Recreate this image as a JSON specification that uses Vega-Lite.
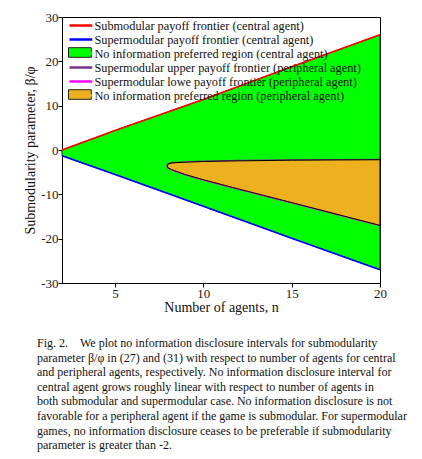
{
  "$schema": "https://vega.github.io/schema/vega-lite/v6.json",
  "autosize": "none",
  "padding": {"left": 62, "top": 17, "right": 42, "bottom": 176},
  "width": 318,
  "height": 266,
  "background": "white",
  "config": {
    "view": {"stroke": "#000000", "strokeWidth": 1},
    "font": "Liberation Serif",
    "axis": {
      "grid": false,
      "zindex": 1,
      "labelFont": "Liberation Serif",
      "labelFontSize": 13,
      "labelColor": "#1a1a1a",
      "labelFlush": false,
      "labelExpr": "replace(datum.label, '\u2212', '-')",
      "titleFont": "Liberation Serif",
      "titleFontSize": 14,
      "titleFontWeight": "normal",
      "titleColor": "#111111",
      "domainColor": "#000000",
      "tickColor": "#000000",
      "tickSize": 4,
      "domainWidth": 1
    }
  },
  "title": {
    "text": [
      "Fig. 2.\u00a0\u00a0\u00a0\u00a0We plot no information disclosure intervals for submodularity",
      "parameter β/φ in (27) and (31) with respect to number of agents for central",
      "and peripheral agents, respectively. No information disclosure interval for",
      "central agent grows roughly linear with respect to number of agents in",
      "both submodular and supermodular case. No information disclosure is not",
      "favorable for a peripheral agent if the game is submodular. For supermodular",
      "games, no information disclosure ceases to be preferable if submodularity",
      "parameter is greater than -2."
    ],
    "orient": "bottom",
    "anchor": "start",
    "frame": "group",
    "font": "Liberation Serif",
    "fontSize": 12,
    "fontWeight": "normal",
    "lineHeight": 14.6,
    "offset": 24,
    "dx": -25,
    "color": "#111111"
  },
  "datasets": {
    "central": [
      {"n": 2, "hi": 0, "lo": -1.3},
      {"n": 5, "hi": 4.4, "lo": -5.5},
      {"n": 10, "hi": 11.4, "lo": -12.7},
      {"n": 15, "hi": 18.8, "lo": -19.9},
      {"n": 20, "hi": 26, "lo": -27}
    ],
    "peripheral": [
      {"n": 7.95, "hi": -3.6, "lo": -3.6},
      {"n": 8.0, "hi": -3.2, "lo": -4.0},
      {"n": 8.2, "hi": -2.95, "lo": -4.4},
      {"n": 8.5, "hi": -2.85, "lo": -4.85},
      {"n": 9, "hi": -2.75, "lo": -5.55},
      {"n": 10, "hi": -2.6, "lo": -6.7},
      {"n": 12, "hi": -2.45, "lo": -8.8},
      {"n": 15, "hi": -2.3, "lo": -11.85},
      {"n": 20, "hi": -2.2, "lo": -17.0}
    ]
  },
  "layer": [
    {
      "data": {"name": "central"},
      "mark": {"type": "area", "strokeWidth": 1},
      "encoding": {
        "x": {
          "field": "n", "type": "quantitative",
          "scale": {"domain": [2, 20], "nice": false, "zero": false},
          "axis": {"values": [5, 10, 15, 20], "title": "Number of agents, n", "labelPadding": 0, "titleY": 17,
            "encode": {"ticks": {"update": {"y2": {"value": -4}}}}}
        },
        "y": {
          "field": "hi", "type": "quantitative",
          "scale": {"domain": [-30, 30], "nice": false},
          "axis": {"values": [-30, -20, -10, 0, 10, 20, 30], "title": "Submodularity parameter, β/φ", "labelPadding": 0, "titlePadding": 3,
            "encode": {"ticks": {"update": {"x2": {"value": 4}}}}}
        },
        "y2": {"field": "lo"},
        "fill": {
          "datum": "g",
          "scale": {"domain": ["a", "b", "g", "d", "e", "o"], "range": ["transparent", "transparent", "#00FF00", "transparent", "transparent", "#EDB120"]},
          "legend": {
            "orient": "none", "legendX": 11.4, "legendY": 1, "title": null, "padding": 0,
            "labelFont": "Liberation Serif", "labelFontSize": 12.3, "labelOpacity": 0, "labelExpr": "'\u00a0'",
            "labelOffset": 6, "rowPadding": -3.1, "symbolSize": 144,
            "symbolType": "M-1.9,-0.8H1.9V0.8H-1.9Z", "symbolStrokeWidth": 1
          }
        },
        "stroke": {
          "datum": "g",
          "scale": {"domain": ["a", "b", "g", "d", "e", "o"], "range": ["transparent", "transparent", "#222222", "transparent", "transparent", "#222222"]},
          "legend": {
            "orient": "none", "legendX": 11.4, "legendY": 1, "title": null, "padding": 0,
            "labelFont": "Liberation Serif", "labelFontSize": 12.3, "labelOpacity": 0, "labelExpr": "'\u00a0'",
            "labelOffset": 6, "rowPadding": -3.1, "symbolSize": 144,
            "symbolType": "M-1.9,-0.8H1.9V0.8H-1.9Z", "symbolStrokeWidth": 1
          }
        }
      }
    },
    {
      "data": {"name": "central"},
      "mark": {"type": "line", "strokeWidth": 1.6},
      "encoding": {
        "x": {"field": "n", "type": "quantitative"},
        "y": {"field": "hi", "type": "quantitative"},
        "color": {
          "datum": "Submodular payoff frontier (central agent)",
          "scale": {
            "domain": [
              "Submodular payoff frontier (central agent)",
              "Supermodular payoff frontier (central agent)",
              "No information preferred region (central agent)",
              "Supermodular upper payoff frontier (peripheral agent)",
              "Supermodular lowe payoff frontier (peripheral agent)",
              "No information preferred region (peripheral agent)"
            ],
            "range": ["#FF0000", "#0000FF", "#00FF00", "#7E2F8E", "#FF00FF", "#EDB120"]
          },
          "legend": {
            "orient": "none", "legendX": 11.4, "legendY": 1, "title": null, "padding": 0,
            "labelFont": "Liberation Serif", "labelFontSize": 12.3, "labelColor": "#111111", "labelLimit": 400,
            "labelOffset": 6, "rowPadding": -3.1, "symbolSize": 144,
            "symbolType": "M-1.9,0H1.9", "symbolStrokeWidth": 2.5
          }
        }
      }
    },
    {
      "data": {"name": "central"},
      "mark": {"type": "line", "stroke": "#0000FF", "strokeWidth": 1.6},
      "encoding": {
        "x": {"field": "n", "type": "quantitative"},
        "y": {"field": "lo", "type": "quantitative"}
      }
    },
    {
      "data": {"name": "peripheral"},
      "mark": {"type": "line", "stroke": "#7E2F8E", "strokeWidth": 2},
      "encoding": {
        "x": {"field": "n", "type": "quantitative"},
        "y": {"field": "hi", "type": "quantitative"}
      }
    },
    {
      "data": {"name": "peripheral"},
      "mark": {"type": "line", "stroke": "#FF00FF", "strokeWidth": 2},
      "encoding": {
        "x": {"field": "n", "type": "quantitative"},
        "y": {"field": "lo", "type": "quantitative"}
      }
    },
    {
      "data": {"name": "peripheral"},
      "mark": {"type": "area", "fill": "#EDB120", "stroke": "#000000", "strokeWidth": 1},
      "encoding": {
        "x": {"field": "n", "type": "quantitative"},
        "y": {"field": "hi", "type": "quantitative"},
        "y2": {"field": "lo"}
      }
    }
  ]
}
